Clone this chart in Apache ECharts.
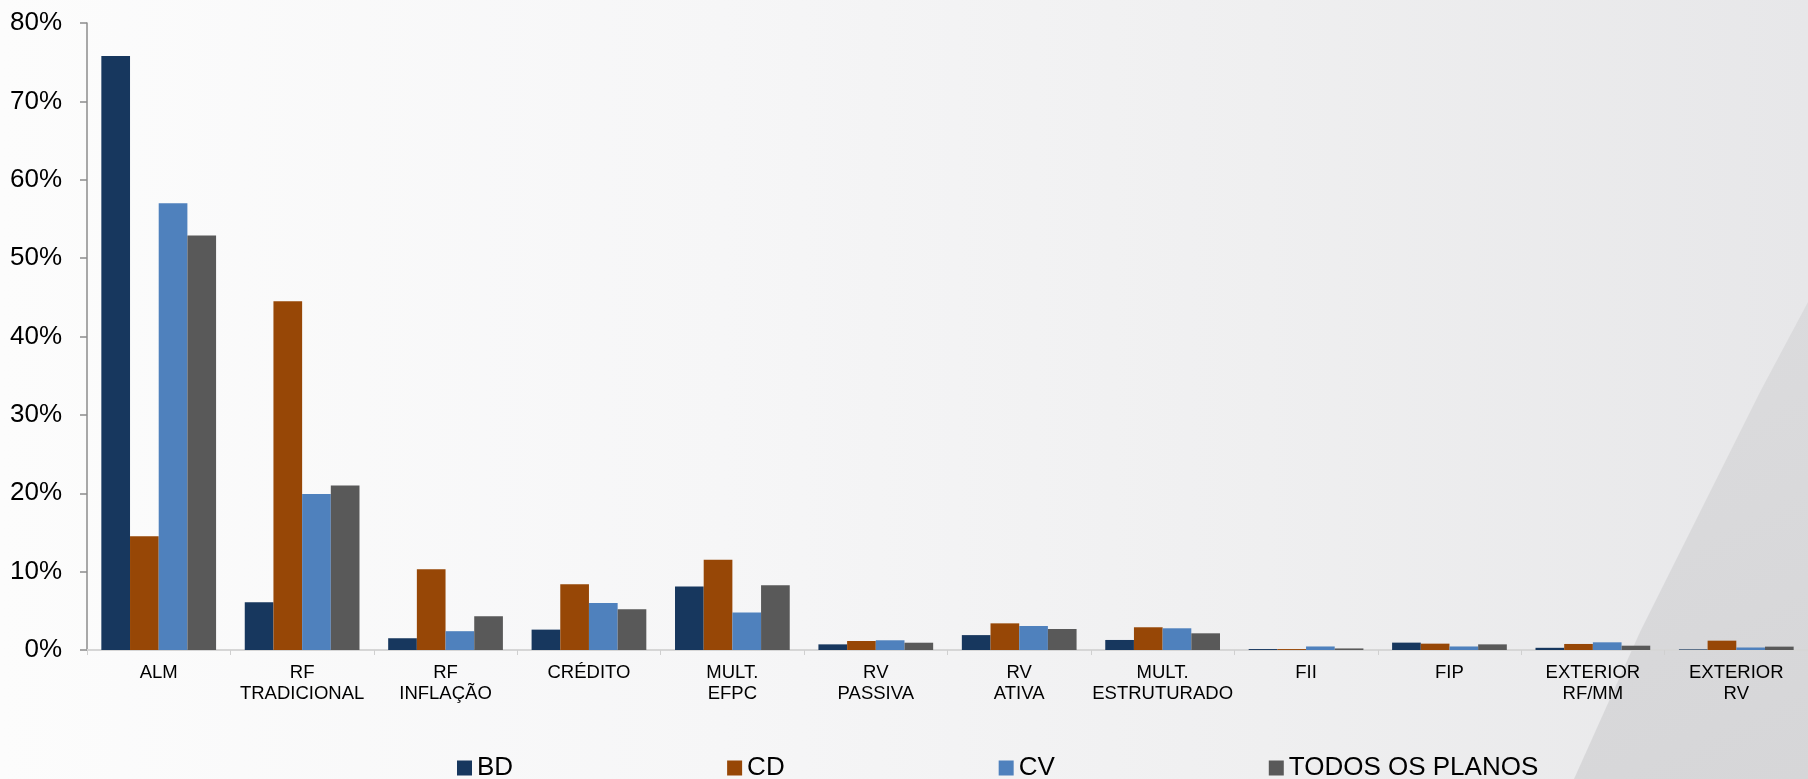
<!DOCTYPE html>
<html>
<head>
<meta charset="utf-8">
<script src="https://cdn.jsdelivr.net/npm/echarts@6/dist/echarts.min.js"></script>
<style>
html,body{margin:0;padding:0;}
#chart{width:1808px;height:779px;background:linear-gradient(to right,#fcfcfc 0%,#f6f6f7 40%,#efeff0 70%,#e7e7e9 100%);}
</style>
</head>
<body>
<div id="chart"></div>
<script>
const categories = ["ALM","RF\nTRADICIONAL","RF\nINFLAÇÃO","CRÉDITO","MULT.\nEFPC","RV\nPASSIVA","RV\nATIVA","MULT.\nESTRUTURADO","FII","FIP","EXTERIOR\nRF/MM","EXTERIOR\nRV"];
const seriesNames = ["BD","CD","CV","TODOS OS PLANOS"];
const bd    = [75.8, 6.1, 1.5, 2.6, 8.1, 0.72, 1.9, 1.28, 0.12, 0.94, 0.28, 0.08];
const cd    = [14.5, 44.5, 10.3, 8.4, 11.5, 1.15, 3.4, 2.9, 0.12, 0.81, 0.77, 1.19];
const cv    = [57.0, 19.9, 2.4, 6.0, 4.8, 1.24, 3.06, 2.77, 0.45, 0.45, 0.98, 0.32];
const todos = [52.9, 21.0, 4.3, 5.2, 8.25, 0.93, 2.68, 2.13, 0.2, 0.72, 0.55, 0.43];
const yTicks = {min: 0, max: 80, interval: 10};
const colors = ["#17375E", "#974706", "#4F81BD", "#595959"];

const chart = echarts.init(document.getElementById('chart'), null, {renderer: 'canvas'});
const font = 'Liberation Sans, Arial, sans-serif';
const values = [bd, cd, cv, todos];

chart.setOption({
  backgroundColor: 'transparent',
  animation: false,
  color: colors,
  textStyle: {fontFamily: font},
  graphic: [{
    type: 'polygon',
    z: -1,
    silent: true,
    shape: {points: [[1808, 302], [1760, 392], [1700, 512], [1640, 632], [1574, 779], [1808, 779]]},
    style: {
      fill: new echarts.graphic.LinearGradient(0, 0, 1, 1, [
        {offset: 0, color: '#dcdcde'},
        {offset: 1, color: '#d6d6d8'}
      ])
    }
  }],
  grid: {left: 87, right: -9, top: 23, bottom: 129, containLabel: false},
  legend: {
    data: seriesNames,
    left: 457,
    top: 755,
    padding: 0,
    icon: 'rect',
    itemWidth: 15,
    itemHeight: 15,
    itemGap: 214,
    textStyle: {fontSize: 26, color: '#000', fontFamily: font}
  },
  xAxis: {
    type: 'category',
    data: categories,
    boundaryGap: true,
    axisLine: {lineStyle: {color: '#d6d6d6', width: 2}},
    axisTick: {show: true, length: 5, lineStyle: {color: '#d0d0d0', width: 1}},
    axisLabel: {
      interval: 0,
      margin: 12,
      fontSize: 18.5,
      lineHeight: 21,
      color: '#000',
      fontFamily: font
    },
    splitLine: {show: false}
  },
  yAxis: {
    type: 'value',
    min: yTicks.min,
    max: yTicks.max,
    interval: yTicks.interval,
    axisLine: {show: true, lineStyle: {color: '#8c8c8c', width: 1.5}},
    axisTick: {show: true, length: 7, lineStyle: {color: '#8c8c8c', width: 1.5}},
    axisLabel: {formatter: '{value}%', fontSize: 26, color: '#000', margin: 25, fontFamily: font},
    splitLine: {show: false}
  },
  series: seriesNames.map((name, i) => ({
    name: name,
    type: 'bar',
    data: values[i],
    barGap: '0%',
    barCategoryGap: '20%',
    itemStyle: {color: colors[i]}
  }))
});
</script>
</body>
</html>
